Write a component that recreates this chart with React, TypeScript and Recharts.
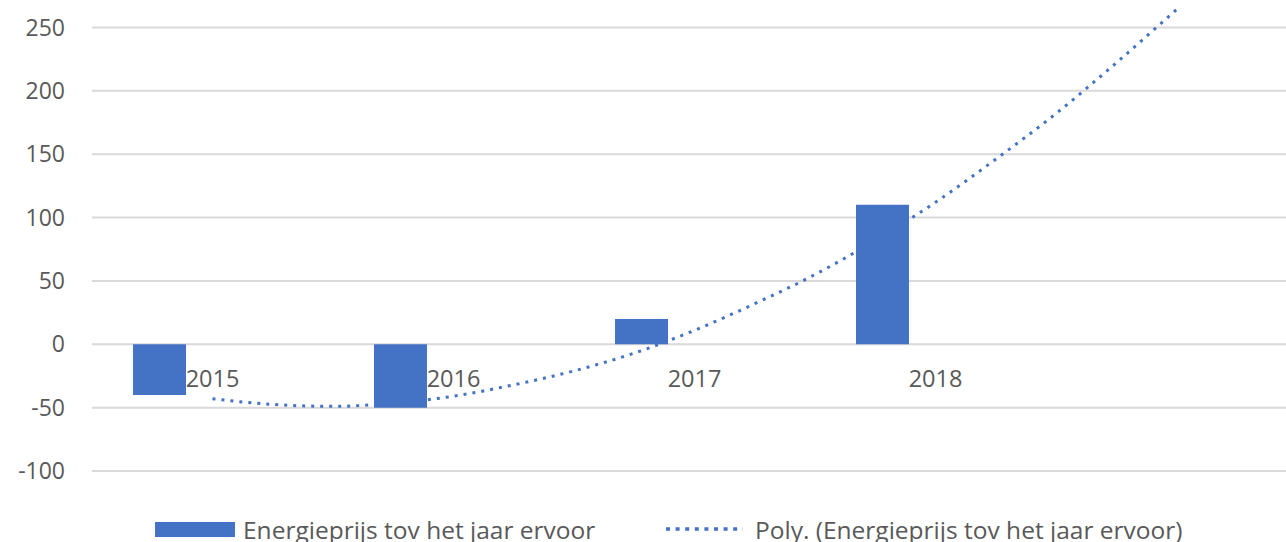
import React from 'react';
import {
  ComposedChart,
  Bar,
  Line,
  XAxis,
  YAxis,
  CartesianGrid,
  Legend,
  LabelList
} from 'recharts';

// categories (last slot is the forecast period of the trendline)
const years = ['2015', '2016', '2017', '2018', ''];
const priceChange = [-40, -50, 20, 110, null];

// polynomial trendline at quarter-year steps
const trendYears = [
  2015, 2015.25, 2015.5, 2015.75, 2016, 2016.25, 2016.5, 2016.75,
  2017, 2017.25, 2017.5, 2017.75, 2018, 2018.25, 2018.5, 2018.75, 2019
];
const trendValues = [
  -43, -47.5, -49, -46.5, -41, -32, -21, -7,
  11, 32, 55, 82, 112, 146, 182, 222, 264
];

const yTicks = [-100, -50, 0, 50, 100, 150, 200, 250];

const BLUE = '#4472C4';
const TEXT = '#595959';
const FONT = "'Open Sans', sans-serif";

const barData = years.map((year, i) => ({
  year,
  change: priceChange[i],
  axis: 0,
  spare: null
}));

const trendData = trendYears.map((t, i) => ({ t, trend: trendValues[i] }));

// year labels sit just under the zero line, like Excel's axis crossing at 0
const YearLabel = (props: any) => {
  if (!props.value) return null;
  return (
    <text x={props.x} y={props.y + 43} textAnchor="middle" fill={TEXT} fontSize={23.5} fontFamily={FONT}>
      {props.value}
    </text>
  );
};

const ChartLegend = (props: any) => {
  const items = (props.payload || []).filter((p: any) => p.type !== 'none');
  const lefts = [155, 666];
  return (
    <div style={{ position: 'relative', height: 80, width: 1300 }}>
      {items.map((item: any, idx: number) => (
        <div
          key={idx}
          style={{
            position: 'absolute',
            left: lefts[idx],
            top: 44,
            height: 28,
            display: 'flex',
            alignItems: 'center',
            whiteSpace: 'nowrap'
          }}
        >
          {item.type === 'rect' ? (
            <span style={{ display: 'inline-block', width: 80, height: 15, background: BLUE, marginRight: 8 }} />
          ) : (
            <svg width={77} height={6} style={{ marginRight: 12 }}>
              <line x1={0} y1={3} x2={77} y2={3} stroke={BLUE} strokeWidth={3.5} strokeDasharray="4 5.6" />
            </svg>
          )}
          <span style={{ color: TEXT, fontSize: 24.5, fontFamily: FONT }}>{item.value}</span>
        </div>
      ))}
    </div>
  );
};

const App: React.FC = () => {
  return (
    <div
      style={{
        position: 'absolute',
        left: 0,
        top: 0,
        width: 1286,
        height: 542,
        overflow: 'hidden',
        background: '#fff',
        fontFamily: FONT
      }}
    >
      <div style={{ position: 'absolute', left: 0, top: -46 }}>
        <ComposedChart
          width={1310}
          height={597}
          data={barData}
          margin={{ top: 10, right: 13, left: 0, bottom: 0 }}
          barGap={0}
          barSize={53}
        >
          <CartesianGrid vertical={false} stroke="#d9d9d9" strokeWidth={2} />
          <XAxis xAxisId="cat" dataKey="year" type="category" hide />
          <XAxis
            xAxisId="trend"
            dataKey="t"
            type="number"
            domain={[2014.5, 2019.5]}
            allowDataOverflow
            hide
          />
          <YAxis
            domain={[-100, 300]}
            ticks={yTicks}
            interval={0}
            width={92}
            axisLine={false}
            tickLine={false}
            tickSize={0}
            tickMargin={27}
            tick={{ fill: TEXT, fontSize: 23, fontFamily: FONT }}
          />
          <Legend verticalAlign="bottom" wrapperStyle={{ left: 0, bottom: 0 }} content={<ChartLegend />} />

          <Bar
            xAxisId="cat"
            dataKey="change"
            name="Energieprijs tov het jaar ervoor"
            fill={BLUE}
            legendType="rect"
            isAnimationActive={false}
          />
          <Bar xAxisId="cat" dataKey="spare" fill="none" legendType="none" isAnimationActive={false} />
          <Bar xAxisId="cat" dataKey="spare" fill="none" legendType="none" isAnimationActive={false} />

          {/* invisible zero line carrying the category labels */}
          <Line
            xAxisId="cat"
            dataKey="axis"
            stroke="none"
            dot={false}
            activeDot={false}
            legendType="none"
            isAnimationActive={false}
          >
            <LabelList dataKey="year" content={<YearLabel />} />
          </Line>

          <Line
            xAxisId="trend"
            data={trendData}
            dataKey="trend"
            name="Poly. (Energieprijs tov het jaar ervoor)"
            type="monotone"
            stroke={BLUE}
            strokeWidth={3}
            strokeDasharray="3 6"
            dot={false}
            activeDot={false}
            legendType="plainline"
            isAnimationActive={false}
          />
        </ComposedChart>
      </div>
    </div>
  );
};

export default App;
